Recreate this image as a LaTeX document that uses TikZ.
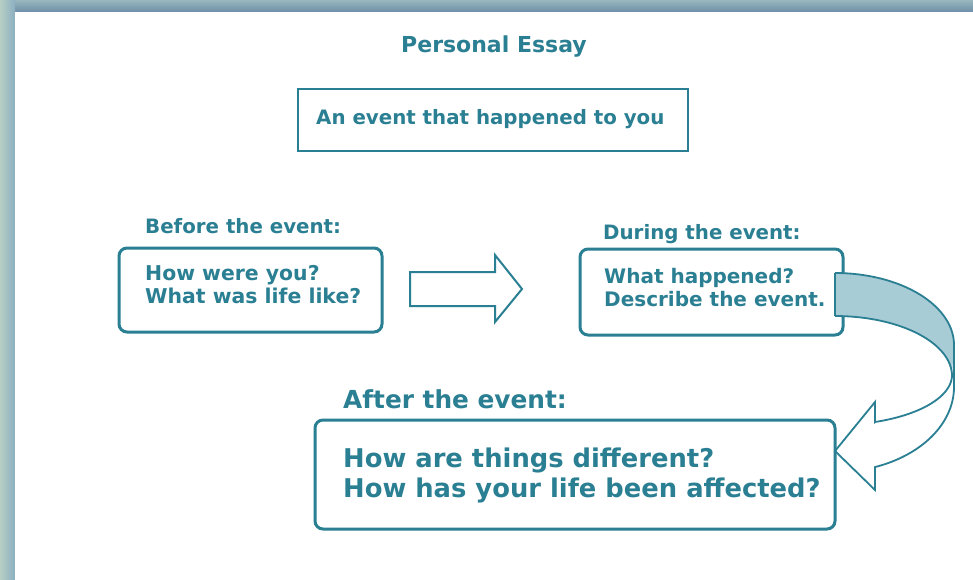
\documentclass[tikz,border=0pt]{standalone}
\usepackage{fontspec}
\setmainfont{DejaVu Sans}
\definecolor{ink}{HTML}{2A7F93}
\definecolor{bandc}{HTML}{A8CCD6}
\definecolor{frtop}{HTML}{98B7BE}
\definecolor{frbot}{HTML}{6E8FA8}
\definecolor{frleft}{HTML}{B6CEC4}
\definecolor{frright}{HTML}{8CAFC2}
\tikzset{
  txt/.style={anchor=base west, text=ink, inner sep=0pt, font=\bfseries\fontsize{#1}{#1}\selectfont},
  rbox/.style={draw=ink, line width=3pt, rounded corners=8pt, fill=white},
  sbox/.style={draw=ink, line width=2.8pt, fill=white},
  arrline/.style={draw=ink, line width=2pt, line join=miter},
}
\begin{document}
\begin{tikzpicture}[x=1pt,y=-1pt]
\useasboundingbox (0,0) rectangle (973,580);
% frame
\shade[top color=frtop, bottom color=frbot] (0,0) rectangle (973,12);
\shade[left color=frleft, right color=frright] (0,0) rectangle (15,580);
\fill[white] (15,12) rectangle (973,580);
% title
\node[txt=22, anchor=base] (title) at (494,53) {Personal Essay};
% box 1
\draw[sbox] (298,89) rectangle (688,151);
\node[txt=19.8] (ev) at (316,125) {An event that happened to you};
% before
\node[txt=19.8] (before) at (145,233) {Before the event:};
\draw[rbox] (119,248) rectangle (382,332);
\node[txt=20.4] (b1) at (145,280) {How were you?};
\node[txt=20.4] (b2) at (145,303) {What was life like?};
% straight arrow
\draw[arrline] (410,272) -- (495,272) -- (495,255) -- (522,289) -- (495,322) -- (495,306) -- (410,306) -- cycle;
% during
\node[txt=19.8] (during) at (603,239) {During the event:};
\draw[rbox] (580,249) rectangle (843,335);
\node[txt=20] (d1) at (604,283) {What happened?};
\node[txt=20] (d2) at (604,306) {Describe the event.};
% after
\node[txt=24.8] (after) at (343,408) {After the event:};
\draw[rbox] (315,420) rectangle (835,529);
\node[txt=25.8] (a1) at (343,467) {How are things different?};
\node[txt=25.8] (a2) at (343,497) {How has your life been affected?};
% curved arrow
\coordinate (cA) at (835,273);
\coordinate (cB) at (835,316);
\coordinate (cX) at (952,375);
\fill[bandc] plot[domain=90:0, samples=40] ({835+119*cos(\x)},{345-72*sin(\x)}) -- (cX)
  -- plot[domain=0:90, samples=40] ({835+117*cos(\x)},{376-60*sin(\x)}) -- cycle;
\draw[ink, line width=1.8pt] (cB) -- (cA);
\draw[ink, line width=1.8pt] plot[domain=90:0, samples=40] ({835+119*cos(\x)},{345-72*sin(\x)}) -- (954,387)
  -- plot[domain=0:70.4, samples=40] ({835+119*cos(\x)},{387+85*sin(\x)}) -- (875,490) -- (835,451) -- (875,402) -- (875,422)
  -- plot[domain=70:0, samples=40] ({835+117*cos(\x)},{375+50*sin(\x)});
\draw[ink, line width=1.8pt] plot[domain=90:0, samples=40] ({835+117*cos(\x)},{376-60*sin(\x)});
\end{tikzpicture}
\end{document}
